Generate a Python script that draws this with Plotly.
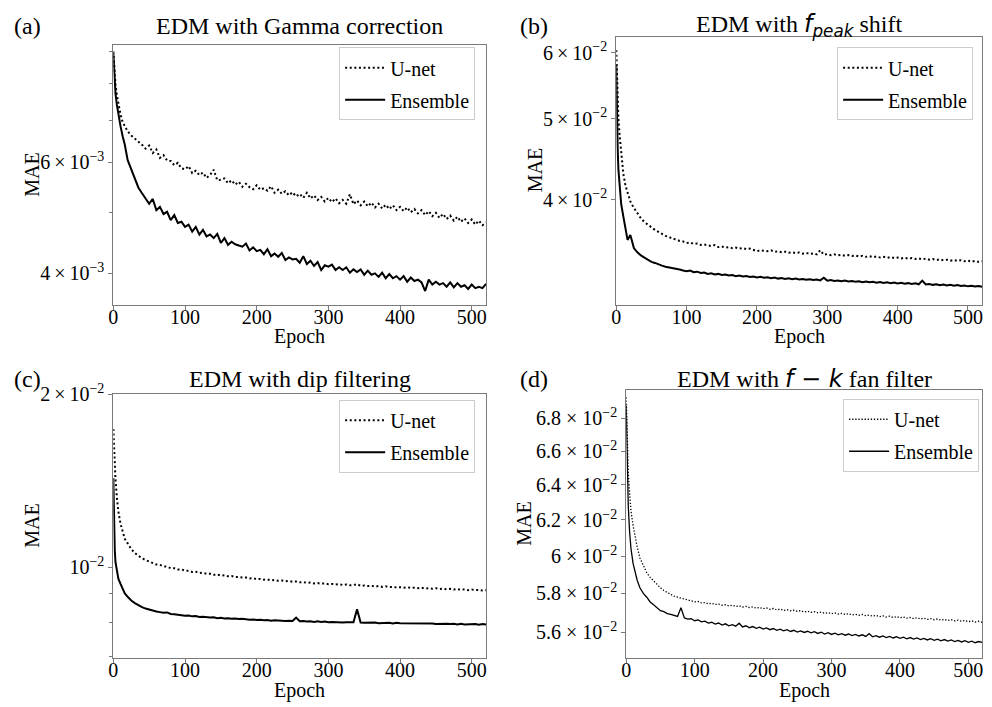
import math
import plotly.graph_objects as go

# Training epochs at which the validation MAE is plotted
EPOCHS = [0, 1, 2, 3, 5, 7, 10, 13, 16, 20] + list(range(25, 521, 5))

# (a) EDM with Gamma correction
unet_gamma = [
    9.00e-3, 8.55e-3, 8.25e-3, 7.98e-3, 7.66e-3, 7.40e-3, 7.15e-3, 6.95e-3, 6.85e-3, 6.72e-3,
    6.62e-3, 6.55e-3, 6.47e-3, 6.40e-3, 6.31e-3, 6.38e-3, 6.21e-3, 6.29e-3, 6.10e-3, 6.16e-3,
    6.04e-3, 6.03e-3, 5.94e-3, 5.99e-3, 5.87e-3, 5.85e-3, 5.92e-3, 5.77e-3, 5.82e-3, 5.73e-3,
    5.78e-3, 5.67e-3, 5.73e-3, 5.84e-3, 5.62e-3, 5.63e-3, 5.66e-3, 5.56e-3, 5.62e-3, 5.53e-3,
    5.59e-3, 5.49e-3, 5.55e-3, 5.48e-3, 5.44e-3, 5.52e-3, 5.43e-3, 5.46e-3, 5.41e-3, 5.50e-3,
    5.37e-3, 5.43e-3, 5.35e-3, 5.40e-3, 5.32e-3, 5.38e-3, 5.30e-3, 5.35e-3, 5.27e-3, 5.37e-3,
    5.26e-3, 5.32e-3, 5.23e-3, 5.29e-3, 5.20e-3, 5.27e-3, 5.19e-3, 5.26e-3, 5.17e-3, 5.23e-3,
    5.16e-3, 5.34e-3, 5.15e-3, 5.22e-3, 5.13e-3, 5.20e-3, 5.11e-3, 5.18e-3, 5.09e-3, 5.16e-3,
    5.07e-3, 5.14e-3, 5.06e-3, 5.13e-3, 5.04e-3, 5.10e-3, 5.02e-3, 5.09e-3, 5.00e-3, 5.06e-3,
    4.98e-3, 5.04e-3, 4.95e-3, 5.02e-3, 4.93e-3, 4.99e-3, 4.90e-3, 4.97e-3, 4.88e-3, 4.94e-3,
    4.85e-3, 4.92e-3, 4.83e-3, 4.89e-3, 4.81e-3, 4.87e-3, 4.78e-3, 4.85e-3, 4.77e-3, 4.82e-3,
]
ens_gamma = [
    8.95e-3, 8.35e-3, 7.98e-3, 7.72e-3, 7.40e-3, 7.15e-3, 6.85e-3, 6.60e-3, 6.40e-3, 6.05e-3,
    5.85e-3, 5.62e-3, 5.47e-3, 5.36e-3, 5.27e-3, 5.16e-3, 5.25e-3, 5.04e-3, 5.10e-3, 4.97e-3,
    5.01e-3, 4.86e-3, 4.95e-3, 4.81e-3, 4.83e-3, 4.74e-3, 4.78e-3, 4.66e-3, 4.74e-3, 4.61e-3,
    4.69e-3, 4.58e-3, 4.61e-3, 4.55e-3, 4.62e-3, 4.47e-3, 4.55e-3, 4.44e-3, 4.49e-3, 4.45e-3,
    4.43e-3, 4.41e-3, 4.46e-3, 4.35e-3, 4.40e-3, 4.34e-3, 4.36e-3, 4.29e-3, 4.37e-3, 4.26e-3,
    4.30e-3, 4.25e-3, 4.31e-3, 4.20e-3, 4.24e-3, 4.21e-3, 4.22e-3, 4.16e-3, 4.26e-3, 4.14e-3,
    4.19e-3, 4.11e-3, 4.17e-3, 4.05e-3, 4.12e-3, 4.10e-3, 4.13e-3, 4.05e-3, 4.09e-3, 4.05e-3,
    4.09e-3, 4.01e-3, 4.06e-3, 4.02e-3, 4.06e-3, 3.98e-3, 4.04e-3, 3.98e-3, 4.00e-3, 3.95e-3,
    4.01e-3, 3.93e-3, 3.99e-3, 3.93e-3, 3.96e-3, 3.91e-3, 3.96e-3, 3.88e-3, 3.94e-3, 3.89e-3,
    3.91e-3, 3.87e-3, 3.75e-3, 3.91e-3, 3.84e-3, 3.88e-3, 3.84e-3, 3.86e-3, 3.81e-3, 3.87e-3,
    3.80e-3, 3.86e-3, 3.81e-3, 3.83e-3, 3.78e-3, 3.84e-3, 3.79e-3, 3.81e-3, 3.79e-3, 3.85e-3,
]

# (b) EDM with f_peak shift
unet_fpeak = [
    6.04e-2, 5.60e-2, 5.25e-2, 5.00e-2, 4.75e-2, 4.52e-2, 4.30e-2, 4.16e-2, 4.07e-2, 3.98e-2,
    3.91e-2, 3.85e-2, 3.80e-2, 3.76e-2, 3.73e-2, 3.70e-2, 3.68e-2, 3.66e-2, 3.64e-2, 3.62e-2,
    3.610e-2, 3.590e-2, 3.585e-2, 3.570e-2, 3.565e-2, 3.550e-2, 3.555e-2, 3.540e-2, 3.545e-2, 3.530e-2,
    3.535e-2, 3.525e-2, 3.520e-2, 3.530e-2, 3.510e-2, 3.515e-2, 3.505e-2, 3.510e-2, 3.500e-2, 3.505e-2,
    3.495e-2, 3.500e-2, 3.490e-2, 3.495e-2, 3.485e-2, 3.470e-2, 3.480e-2, 3.475e-2, 3.470e-2, 3.478e-2,
    3.465e-2, 3.470e-2, 3.460e-2, 3.466e-2, 3.455e-2, 3.460e-2, 3.452e-2, 3.458e-2, 3.447e-2, 3.455e-2,
    3.445e-2, 3.450e-2, 3.440e-2, 3.480e-2, 3.437e-2, 3.443e-2, 3.433e-2, 3.440e-2, 3.430e-2, 3.436e-2,
    3.427e-2, 3.433e-2, 3.424e-2, 3.430e-2, 3.420e-2, 3.426e-2, 3.417e-2, 3.423e-2, 3.414e-2, 3.420e-2,
    3.411e-2, 3.417e-2, 3.408e-2, 3.414e-2, 3.405e-2, 3.410e-2, 3.402e-2, 3.408e-2, 3.399e-2, 3.405e-2,
    3.396e-2, 3.402e-2, 3.393e-2, 3.400e-2, 3.390e-2, 3.396e-2, 3.387e-2, 3.393e-2, 3.384e-2, 3.390e-2,
    3.381e-2, 3.388e-2, 3.378e-2, 3.385e-2, 3.375e-2, 3.382e-2, 3.372e-2, 3.379e-2, 3.370e-2, 3.376e-2,
]
ens_fpeak = [
    5.80e-2, 5.00e-2, 4.60e-2, 4.35e-2, 4.10e-2, 3.95e-2, 3.82e-2, 3.70e-2, 3.58e-2, 3.63e-2,
    3.500e-2, 3.460e-2, 3.430e-2, 3.410e-2, 3.390e-2, 3.370e-2, 3.360e-2, 3.345e-2, 3.335e-2, 3.325e-2,
    3.320e-2, 3.310e-2, 3.305e-2, 3.300e-2, 3.290e-2, 3.285e-2, 3.290e-2, 3.275e-2, 3.280e-2, 3.268e-2,
    3.272e-2, 3.260e-2, 3.265e-2, 3.255e-2, 3.260e-2, 3.250e-2, 3.254e-2, 3.245e-2, 3.250e-2, 3.240e-2,
    3.245e-2, 3.236e-2, 3.240e-2, 3.232e-2, 3.236e-2, 3.228e-2, 3.234e-2, 3.225e-2, 3.230e-2, 3.222e-2,
    3.227e-2, 3.218e-2, 3.224e-2, 3.215e-2, 3.220e-2, 3.212e-2, 3.218e-2, 3.210e-2, 3.215e-2, 3.207e-2,
    3.213e-2, 3.205e-2, 3.210e-2, 3.202e-2, 3.225e-2, 3.200e-2, 3.205e-2, 3.197e-2, 3.202e-2, 3.194e-2,
    3.200e-2, 3.192e-2, 3.197e-2, 3.190e-2, 3.195e-2, 3.187e-2, 3.193e-2, 3.185e-2, 3.190e-2, 3.182e-2,
    3.188e-2, 3.180e-2, 3.185e-2, 3.178e-2, 3.183e-2, 3.175e-2, 3.181e-2, 3.173e-2, 3.178e-2, 3.171e-2,
    3.176e-2, 3.168e-2, 3.200e-2, 3.166e-2, 3.170e-2, 3.163e-2, 3.168e-2, 3.160e-2, 3.166e-2, 3.158e-2,
    3.163e-2, 3.156e-2, 3.161e-2, 3.153e-2, 3.158e-2, 3.150e-2, 3.156e-2, 3.148e-2, 3.153e-2, 3.146e-2,
]

# (c) EDM with dip filtering
unet_dip = [
    1.74e-2, 1.62e-2, 1.52e-2, 1.42e-2, 1.32e-2, 1.25e-2, 1.19e-2, 1.15e-2, 1.12e-2, 1.10e-2,
    1.075e-2, 1.058e-2, 1.046e-2, 1.036e-2, 1.029e-2, 1.022e-2, 1.018e-2, 1.011e-2, 1.009e-2, 1.003e-2,
    1.002e-2, 0.996e-2, 0.996e-2, 0.991e-2, 0.991e-2, 0.986e-2, 0.986e-2, 0.981e-2, 0.982e-2, 0.977e-2,
    0.978e-2, 0.974e-2, 0.974e-2, 0.970e-2, 0.971e-2, 0.967e-2, 0.968e-2, 0.964e-2, 0.965e-2, 0.961e-2,
    0.962e-2, 0.959e-2, 0.959e-2, 0.956e-2, 0.957e-2, 0.953e-2, 0.954e-2, 0.951e-2, 0.952e-2, 0.949e-2,
    0.950e-2, 0.947e-2, 0.948e-2, 0.945e-2, 0.946e-2, 0.943e-2, 0.944e-2, 0.941e-2, 0.942e-2, 0.939e-2,
    0.940e-2, 0.937e-2, 0.938e-2, 0.936e-2, 0.937e-2, 0.934e-2, 0.935e-2, 0.933e-2, 0.934e-2, 0.931e-2,
    0.933e-2, 0.930e-2, 0.931e-2, 0.934e-2, 0.928e-2, 0.929e-2, 0.927e-2, 0.928e-2, 0.925e-2, 0.927e-2,
    0.924e-2, 0.926e-2, 0.923e-2, 0.924e-2, 0.922e-2, 0.923e-2, 0.921e-2, 0.923e-2, 0.920e-2, 0.921e-2,
    0.919e-2, 0.921e-2, 0.918e-2, 0.919e-2, 0.917e-2, 0.919e-2, 0.916e-2, 0.917e-2, 0.915e-2, 0.917e-2,
    0.914e-2, 0.916e-2, 0.913e-2, 0.915e-2, 0.912e-2, 0.914e-2, 0.912e-2, 0.913e-2, 0.911e-2, 0.912e-2,
]
ens_dip = [
    1.43e-2, 1.18e-2, 1.07e-2, 1.02e-2, 0.980e-2, 0.955e-2, 0.935e-2, 0.915e-2, 0.900e-2, 0.888e-2,
    0.875e-2, 0.866e-2, 0.858e-2, 0.852e-2, 0.847e-2, 0.843e-2, 0.840e-2, 0.837e-2, 0.835e-2, 0.833e-2,
    0.834e-2, 0.829e-2, 0.828e-2, 0.826e-2, 0.825e-2, 0.823e-2, 0.824e-2, 0.821e-2, 0.822e-2, 0.819e-2,
    0.820e-2, 0.818e-2, 0.817e-2, 0.818e-2, 0.815e-2, 0.816e-2, 0.814e-2, 0.815e-2, 0.813e-2, 0.814e-2,
    0.812e-2, 0.813e-2, 0.811e-2, 0.810e-2, 0.811e-2, 0.809e-2, 0.810e-2, 0.808e-2, 0.809e-2, 0.807e-2,
    0.808e-2, 0.807e-2, 0.808e-2, 0.806e-2, 0.807e-2, 0.806e-2, 0.817e-2, 0.805e-2, 0.806e-2, 0.804e-2,
    0.805e-2, 0.803e-2, 0.805e-2, 0.803e-2, 0.804e-2, 0.802e-2, 0.803e-2, 0.802e-2, 0.803e-2, 0.801e-2,
    0.802e-2, 0.801e-2, 0.802e-2, 0.845e-2, 0.801e-2, 0.800e-2, 0.801e-2, 0.800e-2, 0.801e-2, 0.799e-2,
    0.800e-2, 0.799e-2, 0.800e-2, 0.798e-2, 0.800e-2, 0.799e-2, 0.799e-2, 0.798e-2, 0.799e-2, 0.797e-2,
    0.798e-2, 0.797e-2, 0.799e-2, 0.797e-2, 0.798e-2, 0.796e-2, 0.797e-2, 0.796e-2, 0.797e-2, 0.796e-2,
    0.797e-2, 0.795e-2, 0.797e-2, 0.795e-2, 0.796e-2, 0.795e-2, 0.796e-2, 0.794e-2, 0.796e-2, 0.795e-2,
]

# (d) EDM with f-k fan filter
unet_fk = [
    6.93e-2, 6.75e-2, 6.58e-2, 6.47e-2, 6.35e-2, 6.25e-2, 6.17e-2, 6.10e-2, 6.05e-2, 5.99e-2,
    5.950e-2, 5.910e-2, 5.885e-2, 5.865e-2, 5.845e-2, 5.830e-2, 5.815e-2, 5.805e-2, 5.795e-2, 5.785e-2,
    5.780e-2, 5.775e-2, 5.768e-2, 5.765e-2, 5.760e-2, 5.756e-2, 5.758e-2, 5.750e-2, 5.752e-2, 5.745e-2,
    5.748e-2, 5.742e-2, 5.744e-2, 5.738e-2, 5.741e-2, 5.735e-2, 5.738e-2, 5.732e-2, 5.735e-2, 5.729e-2,
    5.732e-2, 5.726e-2, 5.729e-2, 5.723e-2, 5.726e-2, 5.720e-2, 5.724e-2, 5.717e-2, 5.721e-2, 5.714e-2,
    5.718e-2, 5.711e-2, 5.715e-2, 5.709e-2, 5.712e-2, 5.706e-2, 5.710e-2, 5.703e-2, 5.707e-2, 5.701e-2,
    5.705e-2, 5.699e-2, 5.702e-2, 5.696e-2, 5.700e-2, 5.694e-2, 5.698e-2, 5.692e-2, 5.696e-2, 5.690e-2,
    5.694e-2, 5.688e-2, 5.691e-2, 5.686e-2, 5.690e-2, 5.684e-2, 5.687e-2, 5.682e-2, 5.685e-2, 5.679e-2,
    5.683e-2, 5.677e-2, 5.681e-2, 5.675e-2, 5.679e-2, 5.673e-2, 5.677e-2, 5.671e-2, 5.675e-2, 5.669e-2,
    5.673e-2, 5.667e-2, 5.671e-2, 5.665e-2, 5.669e-2, 5.663e-2, 5.667e-2, 5.661e-2, 5.665e-2, 5.659e-2,
    5.663e-2, 5.657e-2, 5.661e-2, 5.655e-2, 5.659e-2, 5.653e-2, 5.657e-2, 5.651e-2, 5.655e-2, 5.650e-2,
]
ens_fk = [
    6.88e-2, 6.60e-2, 6.40e-2, 6.28e-2, 6.13e-2, 6.04e-2, 5.96e-2, 5.91e-2, 5.87e-2, 5.83e-2,
    5.800e-2, 5.780e-2, 5.755e-2, 5.740e-2, 5.725e-2, 5.710e-2, 5.705e-2, 5.695e-2, 5.690e-2, 5.685e-2,
    5.680e-2, 5.725e-2, 5.672e-2, 5.666e-2, 5.668e-2, 5.658e-2, 5.662e-2, 5.652e-2, 5.656e-2, 5.646e-2,
    5.650e-2, 5.641e-2, 5.646e-2, 5.636e-2, 5.642e-2, 5.632e-2, 5.638e-2, 5.630e-2, 5.645e-2, 5.626e-2,
    5.632e-2, 5.622e-2, 5.628e-2, 5.619e-2, 5.625e-2, 5.615e-2, 5.621e-2, 5.612e-2, 5.618e-2, 5.609e-2,
    5.615e-2, 5.606e-2, 5.612e-2, 5.603e-2, 5.609e-2, 5.600e-2, 5.606e-2, 5.598e-2, 5.604e-2, 5.596e-2,
    5.602e-2, 5.593e-2, 5.599e-2, 5.590e-2, 5.597e-2, 5.588e-2, 5.594e-2, 5.586e-2, 5.592e-2, 5.584e-2,
    5.590e-2, 5.582e-2, 5.588e-2, 5.580e-2, 5.586e-2, 5.578e-2, 5.592e-2, 5.576e-2, 5.582e-2, 5.574e-2,
    5.580e-2, 5.572e-2, 5.578e-2, 5.570e-2, 5.576e-2, 5.568e-2, 5.574e-2, 5.566e-2, 5.572e-2, 5.564e-2,
    5.570e-2, 5.562e-2, 5.568e-2, 5.560e-2, 5.566e-2, 5.558e-2, 5.564e-2, 5.556e-2, 5.562e-2, 5.554e-2,
    5.560e-2, 5.552e-2, 5.558e-2, 5.550e-2, 5.556e-2, 5.548e-2, 5.554e-2, 5.546e-2, 5.552e-2, 5.548e-2,
]

SERIES_NAMES = ["U-net", "Ensemble"]
X_TICKS = [0, 100, 200, 300, 400, 500]

W, H = 992, 707
SERIF = "Liberation Serif, Times New Roman, serif"
SANS = "DejaVu Sans"
AX_COLOR = "#7a7a7a"
THIN = "\u2009"


def px_x(v):
    return v / W


def px_y(v):
    return 1 - v / H


def sci(m, e, spaced=False):
    sep = " × " if spaced else f"{THIN}×{THIN}"
    return f"{m}{sep}10<sup>−{e}</sup>"


panels = [
    dict(
        letter="(a)", title="EDM with Gamma correction",
        box=(109, 484, 33, 297), ylim=(3.57e-3, 9.2e-3),
        unet=unet_gamma, ens=ens_gamma, width=2.0,
        yticks=[4e-3, 6e-3], ytext=[sci(4, 3), sci(6, 3)],
        yminor=[5e-3, 7e-3, 8e-3, 9e-3],
        legend=(473, 35), mae_x=27,
    ),
    dict(
        letter="(b)",
        title=f"EDM with <span style='font-family:{SANS}'><i>f</i><sub><i>peak</i></sub></span> shift",
        box=(615, 983, 24, 297), ylim=(2.996e-2, 6.27e-2),
        unet=unet_fpeak, ens=ens_fpeak, width=2.0,
        yticks=[4e-2, 5e-2, 6e-2], ytext=[sci(4, 2), sci(5, 2), sci(6, 2)],
        yminor=[],
        legend=(974, 35), mae_x=533,
    ),
    dict(
        letter="(c)", title="EDM with dip filtering",
        box=(109, 484, 388, 657), ylim=(6.95e-3, 2.003e-2),
        unet=unet_dip, ens=ens_dip, width=2.0,
        yticks=[1e-2, 2e-2], ytext=["10<sup>−2</sup>", sci(2, 2)],
        yminor=[7e-3, 8e-3, 9e-3],
        legend=(473, 394), mae_x=27,
    ),
    dict(
        letter="(d)",
        title=f"EDM with <span style='font-family:{SANS}'><i>f</i> − <i>k</i></span> fan filter",
        box=(625, 983, 384, 657), ylim=(5.47e-2, 6.977e-2),
        unet=unet_fk, ens=ens_fk, width=1.3,
        yticks=[5.6e-2, 5.8e-2, 6.0e-2, 6.2e-2, 6.4e-2, 6.6e-2, 6.8e-2],
        ytext=[sci(m, 2, True) for m in ["5.6", "5.8", "6", "6.2", "6.4", "6.6", "6.8"]],
        yminor=[],
        legend=(980, 393), mae_x=522,
    ),
]

fig = go.Figure()
layout = dict(
    width=W, height=H,
    margin=dict(l=0, r=0, t=0, b=0),
    paper_bgcolor="white", plot_bgcolor="white",
    font=dict(family=SERIF, size=19, color="black"),
    showlegend=True,
)
annotations = []

for i, p in enumerate(panels):
    n = "" if i == 0 else str(i + 1)
    xa, ya = "x" + n, "y" + n
    leg = "legend" + n
    x0, x1, y0, y1 = p["box"]

    dot = "2px,2.6px" if p["width"] >= 2 else "1.3px,1.8px"
    fig.add_trace(go.Scatter(
        x=EPOCHS, y=p["unet"], mode="lines", name=SERIES_NAMES[0],
        line=dict(color="black", width=p["width"], dash=dot),
        xaxis=xa, yaxis=ya, legend=leg, legendgroup=f"u{i}",
    ))
    fig.add_trace(go.Scatter(
        x=EPOCHS, y=p["ens"], mode="lines", name=SERIES_NAMES[1],
        line=dict(color="black", width=p["width"]),
        xaxis=xa, yaxis=ya, legend=leg, legendgroup=f"e{i}",
    ))

    layout["xaxis" + n] = dict(
        domain=[px_x(x0), px_x(x1)], anchor=ya, range=[0, 520],
        tickmode="array", tickvals=X_TICKS,
        ticks="outside", ticklen=4, tickwidth=1, tickcolor=AX_COLOR,
        ticklabelstandoff=-10,
        showline=True, linecolor=AX_COLOR, linewidth=1, mirror=True,
        showgrid=False, zeroline=False,
        tickfont=dict(family=SERIF, size=20, color="black"),
    )
    layout["yaxis" + n] = dict(
        type="log", domain=[px_y(y1), px_y(y0)], anchor=xa,
        range=[math.log10(p["ylim"][0]), math.log10(p["ylim"][1])],
        tickmode="array", tickvals=p["yticks"], ticktext=p["ytext"],
        ticks="outside", ticklen=4, tickwidth=1, tickcolor=AX_COLOR,
        showline=True, linecolor=AX_COLOR, linewidth=1, mirror=True,
        showgrid=False, zeroline=False,
        tickfont=dict(family=SERIF, size=20, color="black"),
        minor=dict(tickmode="array", tickvals=p["yminor"], ticks="outside",
                   ticklen=3, tickcolor=AX_COLOR, showgrid=False),
    )
    lx, ly = p["legend"]
    layout[leg] = dict(
        x=px_x(lx), y=px_y(ly), xanchor="right", yanchor="top",
        xref="paper", yref="paper",
        bgcolor="white", bordercolor="#cccccc", borderwidth=1,
        font=dict(family=SERIF, size=20, color="black"),
        itemwidth=40, tracegroupgap=3,
    )

    cx = (x0 + x1) / 2
    title_y = 13 if i < 2 else 373
    annotations.append(dict(
        text=p["title"], x=px_x(cx), y=px_y(title_y), xref="paper", yref="paper",
        xanchor="center", yanchor="middle", showarrow=False,
        font=dict(family=SERIF, size=24, color="black"),
    ))
    letter_x = 23 if i % 2 == 0 else 532
    annotations.append(dict(
        text=p["letter"], x=px_x(letter_x), y=px_y(title_y), xref="paper", yref="paper",
        xanchor="center", yanchor="middle", showarrow=False,
        font=dict(family=SERIF, size=24, color="black"),
    ))
    annotations.append(dict(
        text="MAE", x=px_x(p["mae_x"]), y=px_y((y0 + y1) / 2), xref="paper", yref="paper",
        xanchor="center", yanchor="middle", showarrow=False, textangle=-90,
        font=dict(family=SERIF, size=20, color="black"),
    ))
    annotations.append(dict(
        text="Epoch", x=px_x(cx), y=px_y(y1 + 33), xref="paper", yref="paper",
        xanchor="center", yanchor="middle", showarrow=False,
        font=dict(family=SERIF, size=20, color="black"),
    ))

layout["annotations"] = annotations
fig.update_layout(**layout)
fig.write_html("out.html")
